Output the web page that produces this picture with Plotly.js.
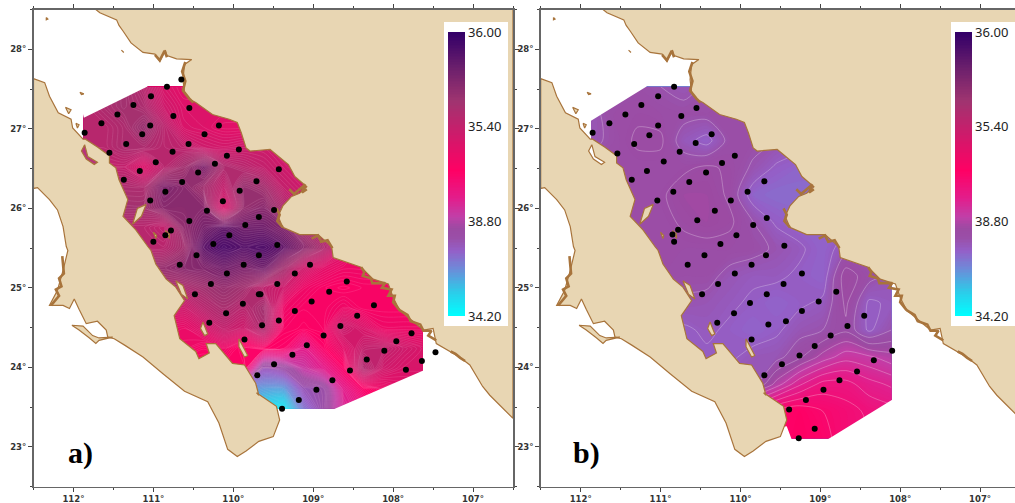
<!DOCTYPE html>
<html><head><meta charset="utf-8">
<script src="https://cdn.plot.ly/plotly-3.0.1.min.js"></script>
<style>html,body{margin:0;padding:0;background:#fff;overflow:hidden}</style>
</head><body><div id="chart" style="width:1015px;height:503px"></div>
<script>
// ---------- coastline (lon, lat) ----------
const mainlandLon=[111.72,111.67,111.46,111.43,111.38,111.28,111.13,110.98,110.92,110.85,110.83,110.71,110.52,110.61,110.63,110.61,110.55,110.47,110.26,110.05,109.95,109.90,109.84,109.79,109.54,109.44,109.31,109.23,109.08,109.17,109.27,109.38,109.44,109.38,109.17,108.94,108.77,108.75,108.40,108.25,108.06,108.00,107.92,107.62,107.50,107.46,107.17,107.04,106.88,106.79,106.5,106.5,111.72];
const mainlandLat=[28.50,28.46,28.37,28.30,28.23,28.08,27.96,27.94,27.85,27.99,27.92,27.88,27.87,27.81,27.62,27.45,27.37,27.33,27.18,27.12,27.08,26.95,26.76,26.72,26.74,26.66,26.55,26.40,26.27,26.19,26.15,26.03,25.90,25.76,25.67,25.67,25.52,25.38,25.26,25.11,25.05,24.88,24.72,24.47,24.49,24.30,24.13,24.03,23.76,23.65,23.36,28.5,28.5];
const bajaLon=[112.5,112.36,112.30,112.19,112.03,112.01,111.88,111.85,111.70,111.55,111.55,111.47,111.43,111.32,111.38,111.22,111.07,111.03,110.97,110.84,110.72,110.61,110.74,110.67,110.47,110.43,110.30,110.34,110.22,110.01,109.86,109.72,109.68,109.71,109.46,109.42,109.50,109.68,109.84,109.95,110.07,110.18,110.32,110.61,110.88,111.13,111.36,111.49,111.57,111.59,111.70,111.84,111.93,111.99,112.05,112.13,112.30,112.20,112.13,112.07,112.09,112.13,112.20,112.30,112.45,112.5,112.5];
const bajaLat=[27.63,27.58,27.41,27.20,27.12,27.01,26.87,26.87,26.77,26.66,26.57,26.51,26.36,26.11,25.90,25.73,25.52,25.47,25.30,25.11,25.01,24.84,24.65,24.36,24.20,24.11,24.18,24.30,24.30,24.05,24.03,23.80,23.65,23.68,23.51,23.34,23.13,23.07,22.95,22.88,22.97,23.30,23.57,23.70,23.92,24.13,24.28,24.36,24.38,24.47,24.58,24.55,24.73,24.86,24.74,24.78,24.78,24.97,25.22,25.47,25.52,25.77,25.98,26.11,26.26,26.25,27.63];
const magdalenaLon=[112.02,111.88,111.76,111.68,111.51,111.68,111.72,111.80,111.93,112.02];
const magdalenaLat=[24.53,24.52,24.40,24.37,24.38,24.34,24.30,24.37,24.47,24.53];
const carmenLon=[111.09,111.15,111.26,111.20,111.09], carmenLat=[26.05,25.90,25.80,26.00,26.05];
const sanJoseLon=[110.72,110.63,110.57,110.65,110.72], sanJoseLat=[25.09,25.03,24.86,24.92,25.09];
const espirituLon=[110.38,110.32,110.36,110.41,110.38], espirituLat=[24.57,24.42,24.40,24.49,24.57];
const cerralvoLon=[109.93,109.82,109.86,109.93,109.93], cerralvoLat=[24.36,24.15,24.13,24.26,24.36];
const smallLon=[[112.34,112.32,112.34,112.34],[111.40,111.37,111.38,111.40],[111.92,111.87,111.90,111.92],[112.10,112.03,112.06,112.10],[111.97,111.93,111.95,111.97],[110.85,110.80,110.80,110.85],[111.00,110.96,110.97,111.00]];
const smallLat=[[28.40,28.38,28.37,28.40],[27.99,27.96,27.97,27.99],[27.46,27.44,27.43,27.46],[27.27,27.24,27.19,27.27],[27.07,27.05,27.01,27.07],[25.72,25.62,25.68,25.72],[25.70,25.66,25.62,25.70]];
const tongueLon=[111.86,111.82,111.70,111.74,111.84,111.90,111.86], tongueLat=[26.80,26.65,26.58,26.55,26.62,26.72,26.80];
const marshLon=[[108.40,108.36,108.38,108.28,108.26,108.10,108.14,108.02,108.06,107.98,108.00,107.92],[107.92,107.82,107.78,107.66,107.62,107.52,107.56,107.46],[112.28,112.22,112.18,112.22,112.15,112.18,112.12,112.14],[109.30,109.24,109.10,109.14,109.08],[109.02,108.94,108.90,108.82,108.76],[107.28,107.22,107.16,107.10],[110.60,110.64,110.60,110.63,110.55,110.50],[110.98,110.92,110.86,110.83],[109.46,109.42,109.45,109.38]];
const marshLat=[[25.26,25.20,25.15,25.12,25.06,25.06,25.00,24.98,24.90,24.90,24.82,24.72],[24.72,24.66,24.58,24.54,24.46,24.46,24.40,24.34],[24.78,24.85,24.90,24.98,25.02,25.12,25.18,25.40],[26.24,26.18,26.30,26.20,26.24],[25.62,25.66,25.58,25.60,25.50],[24.20,24.17,24.12,24.08],[27.84,27.72,27.60,27.48,27.38,27.33],[27.93,27.86,27.98,27.90],[26.00,25.92,25.84,25.76]];
// ---------- stations ----------
const stationsALon=[110.65,110.83,111.03,111.25,111.45,111.65,111.86,110.55,110.75,111.04,111.14,111.34,111.55,110.18,110.36,110.56,110.76,110.97,111.17,111.37,109.93,110.08,110.23,110.44,110.64,110.85,111.04,109.71,109.92,110.13,110.33,110.55,110.78,110.85,111.00,109.68,109.85,110.05,110.25,109.43,109.49,109.45,110.46,110.67,109.87,110.08,110.28,110.48,109.68,109.88,110.09,110.30,109.86,109.70,109.68,109.04,109.23,109.45,109.66,108.58,108.80,109.02,109.23,109.43,109.64,108.24,108.45,108.66,108.87,109.08,109.26,109.49,107.77,107.96,108.11,108.33,108.54,108.76,108.96,109.18,109.39,107.64,107.84,107.47];
const stationsALat=[27.62,27.53,27.41,27.30,27.18,27.07,26.95,27.26,27.16,27.04,26.93,26.81,26.70,27.04,26.93,26.81,26.71,26.58,26.47,26.36,26.74,26.66,26.56,26.45,26.33,26.21,26.10,26.34,26.22,26.09,25.97,25.84,25.72,25.66,25.58,25.89,25.79,25.66,25.55,26.49,25.98,25.54,25.41,25.29,25.29,25.18,25.05,24.92,24.92,24.80,24.68,24.56,24.35,23.90,25.41,25.29,25.18,25.05,24.92,25.08,24.95,24.83,24.71,24.59,24.53,24.78,24.65,24.52,24.40,24.28,24.16,24.04,24.43,24.33,24.21,24.10,23.96,23.84,23.72,23.59,23.48,24.08,23.97,24.19];
const stationsBLon=[110.83,111.03,111.24,111.44,111.64,111.85,110.55,110.74,111.03,111.14,111.33,111.54,110.36,110.56,110.76,110.96,111.17,111.36,110.07,110.23,110.43,110.64,110.84,111.04,109.70,109.91,110.12,110.32,110.54,110.78,110.85,110.83,109.67,109.84,110.05,110.25,109.45,110.45,110.66,109.86,110.07,110.28,110.48,109.67,109.88,110.08,110.29,109.65,109.86,109.70,109.68,109.23,109.46,108.80,109.02,109.23,109.43,108.45,108.66,108.87,109.07,109.26,109.48,108.10,108.33,108.54,108.76,108.96,109.18,109.39,109.07,109.27];
const stationsBLat=[27.53,27.41,27.30,27.18,27.07,26.95,27.26,27.16,27.04,26.92,26.81,26.69,26.93,26.82,26.71,26.59,26.47,26.36,26.66,26.57,26.45,26.33,26.21,26.10,26.34,26.21,26.10,25.97,25.85,25.73,25.67,25.58,25.88,25.79,25.66,25.55,25.53,25.41,25.29,25.29,25.18,25.05,24.92,24.92,24.81,24.68,24.56,24.54,24.35,23.90,25.41,25.18,25.05,24.95,24.83,24.71,24.58,24.65,24.52,24.40,24.27,24.15,24.04,24.21,24.09,23.95,23.84,23.72,23.59,23.47,23.23,23.11];
// ---------- salinity grids ----------
const gridALon=[111.87,111.62,111.37,111.12,110.87,110.62,110.37,110.12,109.87,109.62,109.37,109.12,108.87,108.62,108.37,108.12,107.87,107.63];
const gridALat=[23.48,23.73,23.99,24.24,24.49,24.75,25.00,25.25,25.51,25.76,26.01,26.26,26.52,26.77,27.02,27.28,27.53];
const fieldA=[
[34.6,34.6,34.6,34.6,34.6,34.6,34.6,34.5,34.4,34.3,34.25,34.55,34.7,34.9,35.0,35.1,35.15,35.15],
[34.8,34.8,34.8,34.8,34.8,34.8,34.7,34.6,34.5,34.45,34.45,34.65,34.7,34.95,35.1,35.2,35.25,35.25],
[35.1,35.1,35.1,35.1,35.1,35.1,35.1,35.1,35.13,34.65,34.7,34.85,34.95,35.1,35.5,35.35,35.3,35.3],
[35.2,35.2,35.2,35.2,35.2,35.2,35.15,35.2,35.1,35.13,35.1,34.95,35.1,35.25,35.4,35.42,35.35,35.3],
[35.25,35.25,35.25,35.25,35.25,35.22,35.3,35.4,35.35,35.5,35.15,35.13,35.15,35.38,35.3,35.2,35.2,35.2],
[35.35,35.35,35.35,35.35,35.35,35.35,35.45,35.52,35.45,35.55,35.2,35.15,35.15,35.2,35.15,35.15,35.15,35.15],
[35.5,35.5,35.5,35.5,35.5,35.5,35.55,35.6,35.55,35.42,35.35,35.2,35.15,35.13,35.15,35.15,35.15,35.15],
[35.6,35.6,35.6,35.6,35.6,35.65,35.68,35.74,35.7,35.75,35.55,35.35,35.25,35.2,35.2,35.2,35.2,35.2],
[35.45,35.45,35.45,35.45,35.45,35.55,35.82,35.9,35.85,35.88,35.8,35.65,35.5,35.3,35.2,35.2,35.2,35.2],
[35.45,35.45,35.45,35.45,35.4,35.62,35.72,35.8,35.75,35.75,35.68,35.5,35.4,35.3,35.3,35.3,35.3,35.3],
[35.55,35.55,35.55,35.55,35.65,35.65,35.65,35.3,35.6,35.65,35.5,35.4,35.35,35.3,35.3,35.3,35.3,35.3],
[35.5,35.5,35.5,35.5,35.7,35.65,35.55,35.4,35.6,35.55,35.4,35.35,35.3,35.3,35.3,35.3,35.3,35.3],
[35.4,35.4,35.4,35.28,35.45,35.55,35.7,35.5,35.45,35.4,35.35,35.3,35.3,35.3,35.3,35.3,35.3,35.3],
[35.45,35.45,35.5,35.5,35.45,35.42,35.35,35.33,35.35,35.35,35.3,35.3,35.3,35.3,35.3,35.3,35.3,35.3],
[35.45,35.45,35.5,35.6,35.45,35.3,35.28,35.25,35.25,35.25,35.25,35.25,35.25,35.25,35.25,35.25,35.25,35.25],
[35.45,35.5,35.55,35.5,35.35,35.28,35.28,35.28,35.28,35.28,35.28,35.28,35.28,35.28,35.28,35.28,35.28,35.28],
[35.5,35.5,35.55,35.45,35.3,35.25,35.25,35.25,35.25,35.25,35.25,35.25,35.25,35.25,35.25,35.25,35.25,35.25]];
const gridBLon=[111.87,111.58,111.29,111.00,110.71,110.42,110.13,109.84,109.55,109.26,108.97,108.68,108.39,108.11];
const gridBLat=[23.11,23.45,23.79,24.13,24.47,24.81,25.15,25.49,25.83,26.17,26.51,26.85,27.19,27.53];
const fieldB=[
[34.7,34.7,34.7,34.7,34.7,34.7,34.7,35.0,35.1,35.13,35.1,35.05,35.03,35.0],
[34.7,34.7,34.7,34.7,34.7,34.7,34.7,35.0,35.1,35.12,35.08,35.05,35.02,35.0],
[34.66,34.66,34.66,34.66,34.66,34.66,34.66,34.66,34.8,34.92,35.0,35.0,34.95,34.92],
[34.62,34.62,34.62,34.62,34.62,34.62,34.62,34.65,34.66,34.72,34.8,34.86,34.84,34.8],
[34.64,34.64,34.64,34.64,34.62,34.64,34.62,34.60,34.62,34.66,34.68,34.72,34.62,34.68],
[34.68,34.68,34.68,34.68,34.67,34.66,34.64,34.62,34.60,34.62,34.64,34.74,34.62,34.64],
[34.71,34.71,34.71,34.71,34.70,34.70,34.66,34.64,34.64,34.62,34.60,34.76,34.70,34.66],
[34.71,34.71,34.71,34.71,34.71,34.71,34.71,34.70,34.67,34.64,34.60,34.66,34.66,34.66],
[34.71,34.71,34.71,34.71,34.74,34.76,34.74,34.68,34.62,34.60,34.60,34.60,34.60,34.60],
[34.71,34.71,34.71,34.72,34.76,34.76,34.72,34.60,34.58,34.58,34.58,34.58,34.58,34.58],
[34.71,34.71,34.71,34.71,34.72,34.74,34.72,34.67,34.62,34.60,34.60,34.60,34.60,34.60],
[34.66,34.70,34.74,34.74,34.65,34.61,34.70,34.70,34.68,34.66,34.66,34.66,34.66,34.66],
[34.66,34.71,34.72,34.71,34.70,34.70,34.70,34.70,34.70,34.70,34.70,34.70,34.70,34.70],
[34.70,34.70,34.70,34.68,34.66,34.69,34.70,34.70,34.70,34.70,34.70,34.70,34.70,34.70]];
// ---------- masks over open water (outside sampled region) ----------
const nwMaskALon=[111.87,111.08,110.9,112.0], nwMaskALat=[27.14,27.53,27.7,27.7];
const seMaskALon=[107.60,108.75,108.75,107.50], seMaskALat=[23.97,23.47,23.3,23.3];
const nwMaskBLon=[111.87,111.18,111.0,112.0], nwMaskBLat=[27.10,27.53,27.7,27.7];
const seMaskBLon=[108.09,108.90,108.90,108.0], seMaskBLat=[23.60,23.10,23.0,23.0];
const swMaskLon=[112.5,112.0,111.0,110.5,110.0,109.80,109.42,109.36,109.36,109.36,110.0,112.5], swMaskLat=[26.0,25.2,24.7,23.9,23.4,23.2,23.26,23.10,23.0,22.5,22.5,22.5];
const colorStops=[[0,'#00ffff'],[0.09,'#30c8e8'],[0.17,'#7088d8'],[0.23,'#9460c8'],[0.275,'#9a4fa8'],[0.31,'#9c4aa2'],[0.35,'#c040a8'],[0.41,'#e0208e'],[0.515,'#ff0064'],[0.667,'#c4206c'],[0.76,'#a03470'],[0.88,'#6a1f6c'],[1,'#340068']];
const tickValues=[36,35.4,34.8,34.2], tickLabels=['36.00','35.40','38.80','34.20'];

const LAND='#e8d6b3', COAST='#a8743c';
function poly(lon,lat,fill,ax,line){return {type:'scatter',mode:'lines',x:lon,y:lat,xaxis:ax.x,yaxis:ax.y,fill:'toself',fillcolor:fill,line:line||{color:COAST,width:1.2},hoverinfo:'skip',showlegend:false};}
function panel(ax,gx,gy,gz,stLon,stLat,nwLon,nwLat,seLon,seLat,barX,lineStart,lineSize,lineCol,lineW,tongueFill){
 const t=[];
 t.push({type:'contour',x:gx,y:gy,z:gz,xaxis:ax.x,yaxis:ax.y,zmin:34.2,zmax:36,zauto:false,colorscale:colorStops,autocontour:false,
  contours:{coloring:'fill',start:34.2,end:36,size:0.01,showlines:false},line:{width:0,smoothing:0.8},hoverinfo:'skip',
  colorbar:{x:barX/1015,xanchor:'left',xpad:0,ypad:0,y:1-32/503,yanchor:'top',lenmode:'pixels',len:284,thicknessmode:'pixels',thickness:17,outlinewidth:0,ticks:'',ticklen:0,tickmode:'array',tickvals:tickValues,ticktext:tickLabels,tickfont:{family:'Noto Sans',size:13,color:'#222'},bgcolor:'rgba(0,0,0,0)',borderwidth:0}});
 t.push({type:'contour',x:gx,y:gy,z:gz,xaxis:ax.x,yaxis:ax.y,showscale:false,autocontour:false,
  contours:{coloring:'none',start:lineStart,end:36,size:lineSize},line:{color:lineCol,width:lineW,smoothing:0.8},hoverinfo:'skip'});
 const none={width:0,color:'#fff'};
 t.push(poly(nwLon,nwLat,'#fff',ax,none),poly(seLon,seLat,'#fff',ax,none),poly(swMaskLon,swMaskLat,'#fff',ax,none));
 t.push(poly(mainlandLon,mainlandLat,LAND,ax),poly(bajaLon,bajaLat,LAND,ax),poly(magdalenaLon,magdalenaLat,LAND,ax));
 [[carmenLon,carmenLat],[sanJoseLon,sanJoseLat],[espirituLon,espirituLat],[cerralvoLon,cerralvoLat]].forEach(p=>t.push(poly(p[0],p[1],LAND,ax)));
 smallLon.forEach((l,i)=>t.push(poly(l,smallLat[i],LAND,ax)));
 t.push(poly(tongueLon,tongueLat,tongueFill,ax));
 marshLon.forEach((l,i)=>t.push({type:'scatter',mode:'lines',x:l,y:marshLat[i],xaxis:ax.x,yaxis:ax.y,line:{color:COAST,width:2.6},hoverinfo:'skip',showlegend:false}));
 t.push({type:'scatter',mode:'markers',x:stLon,y:stLat,xaxis:ax.x,yaxis:ax.y,marker:{color:'#000',size:6},hoverinfo:'skip',showlegend:false});
 return t;
}
const data=[].concat(
 panel({x:'x',y:'y'},gridALon,gridALat,fieldA,stationsALon,stationsALat,nwMaskALon,nwMaskALat,seMaskALon,seMaskALat,448,34.2,0.012,'rgba(255,205,230,0.3)',0.45,'#b8337a'),
 panel({x:'x2',y:'y2'},gridBLon,gridBLat,fieldB,stationsBLon,stationsBLat,nwMaskBLon,nwMaskBLat,seMaskBLon,seMaskBLat,955,34.23,0.05,'rgba(255,255,255,0.38)',0.7,'#fff')
);
const tf={family:'DejaVu Sans',size:8.5,color:'#333',weight:'bold'};
function xa(dom,range,anchor){return {domain:dom,range:range,anchor:anchor,tick0:0,dtick:1,ticksuffix:'°',ticks:'outside',ticklen:4,tickwidth:1,tickcolor:'#444',showline:true,linecolor:'#666',linewidth:1.5,mirror:'ticks',showgrid:false,zeroline:false,tickfont:tf,minor:{dtick:0.5,ticks:'outside',ticklen:2,tickcolor:'#444',showgrid:false},fixedrange:true};}
function ya(dom,anchor,mirror){return {domain:dom,range:[22.5,28.5],anchor:anchor,tick0:0,dtick:1,ticksuffix:'°',ticks:'outside',ticklen:4,tickwidth:1,tickcolor:'#444',showline:true,linecolor:'#666',linewidth:1.5,mirror:mirror,showgrid:false,zeroline:false,tickfont:tf,minor:{dtick:0.5,ticks:'outside',ticklen:2,tickcolor:'#444',showgrid:false},fixedrange:true};}
const yd=[1-486.7/503,1-9.5/503];
const layout={width:1015,height:503,margin:{l:0,r:0,t:0,b:0},paper_bgcolor:'#fff',plot_bgcolor:'#fff',showlegend:false,
 xaxis:xa([33.5/1015,513/1015],[112.5,106.5],'y'),yaxis:ya(yd,'x','ticks'),
 xaxis2:xa([540.7/1015,1],[112.5,106.5625],'y2'),yaxis2:ya(yd,'x2',false),
 shapes:[
  {type:'rect',xref:'paper',yref:'paper',x0:444/1015,x1:508/1015,y0:1-326/503,y1:1-22/503,fillcolor:'#fff',line:{width:0},layer:'above'},
  {type:'rect',xref:'paper',yref:'paper',x0:951/1015,x1:1,y0:1-326/503,y1:1-22/503,fillcolor:'#fff',line:{width:0},layer:'above'}],
 annotations:[
  {text:'<b>a)</b>',xref:'paper',yref:'paper',x:66/1015,y:1-453/503,xanchor:'left',yanchor:'middle',showarrow:false,font:{family:'Liberation Serif',size:30,color:'#000'}},
  {text:'<b>b)</b>',xref:'paper',yref:'paper',x:571/1015,y:1-453/503,xanchor:'left',yanchor:'middle',showarrow:false,font:{family:'Liberation Serif',size:30,color:'#000'}}]
};
Plotly.newPlot('chart',data,layout,{displayModeBar:false,staticPlot:true});
</script></body></html>
